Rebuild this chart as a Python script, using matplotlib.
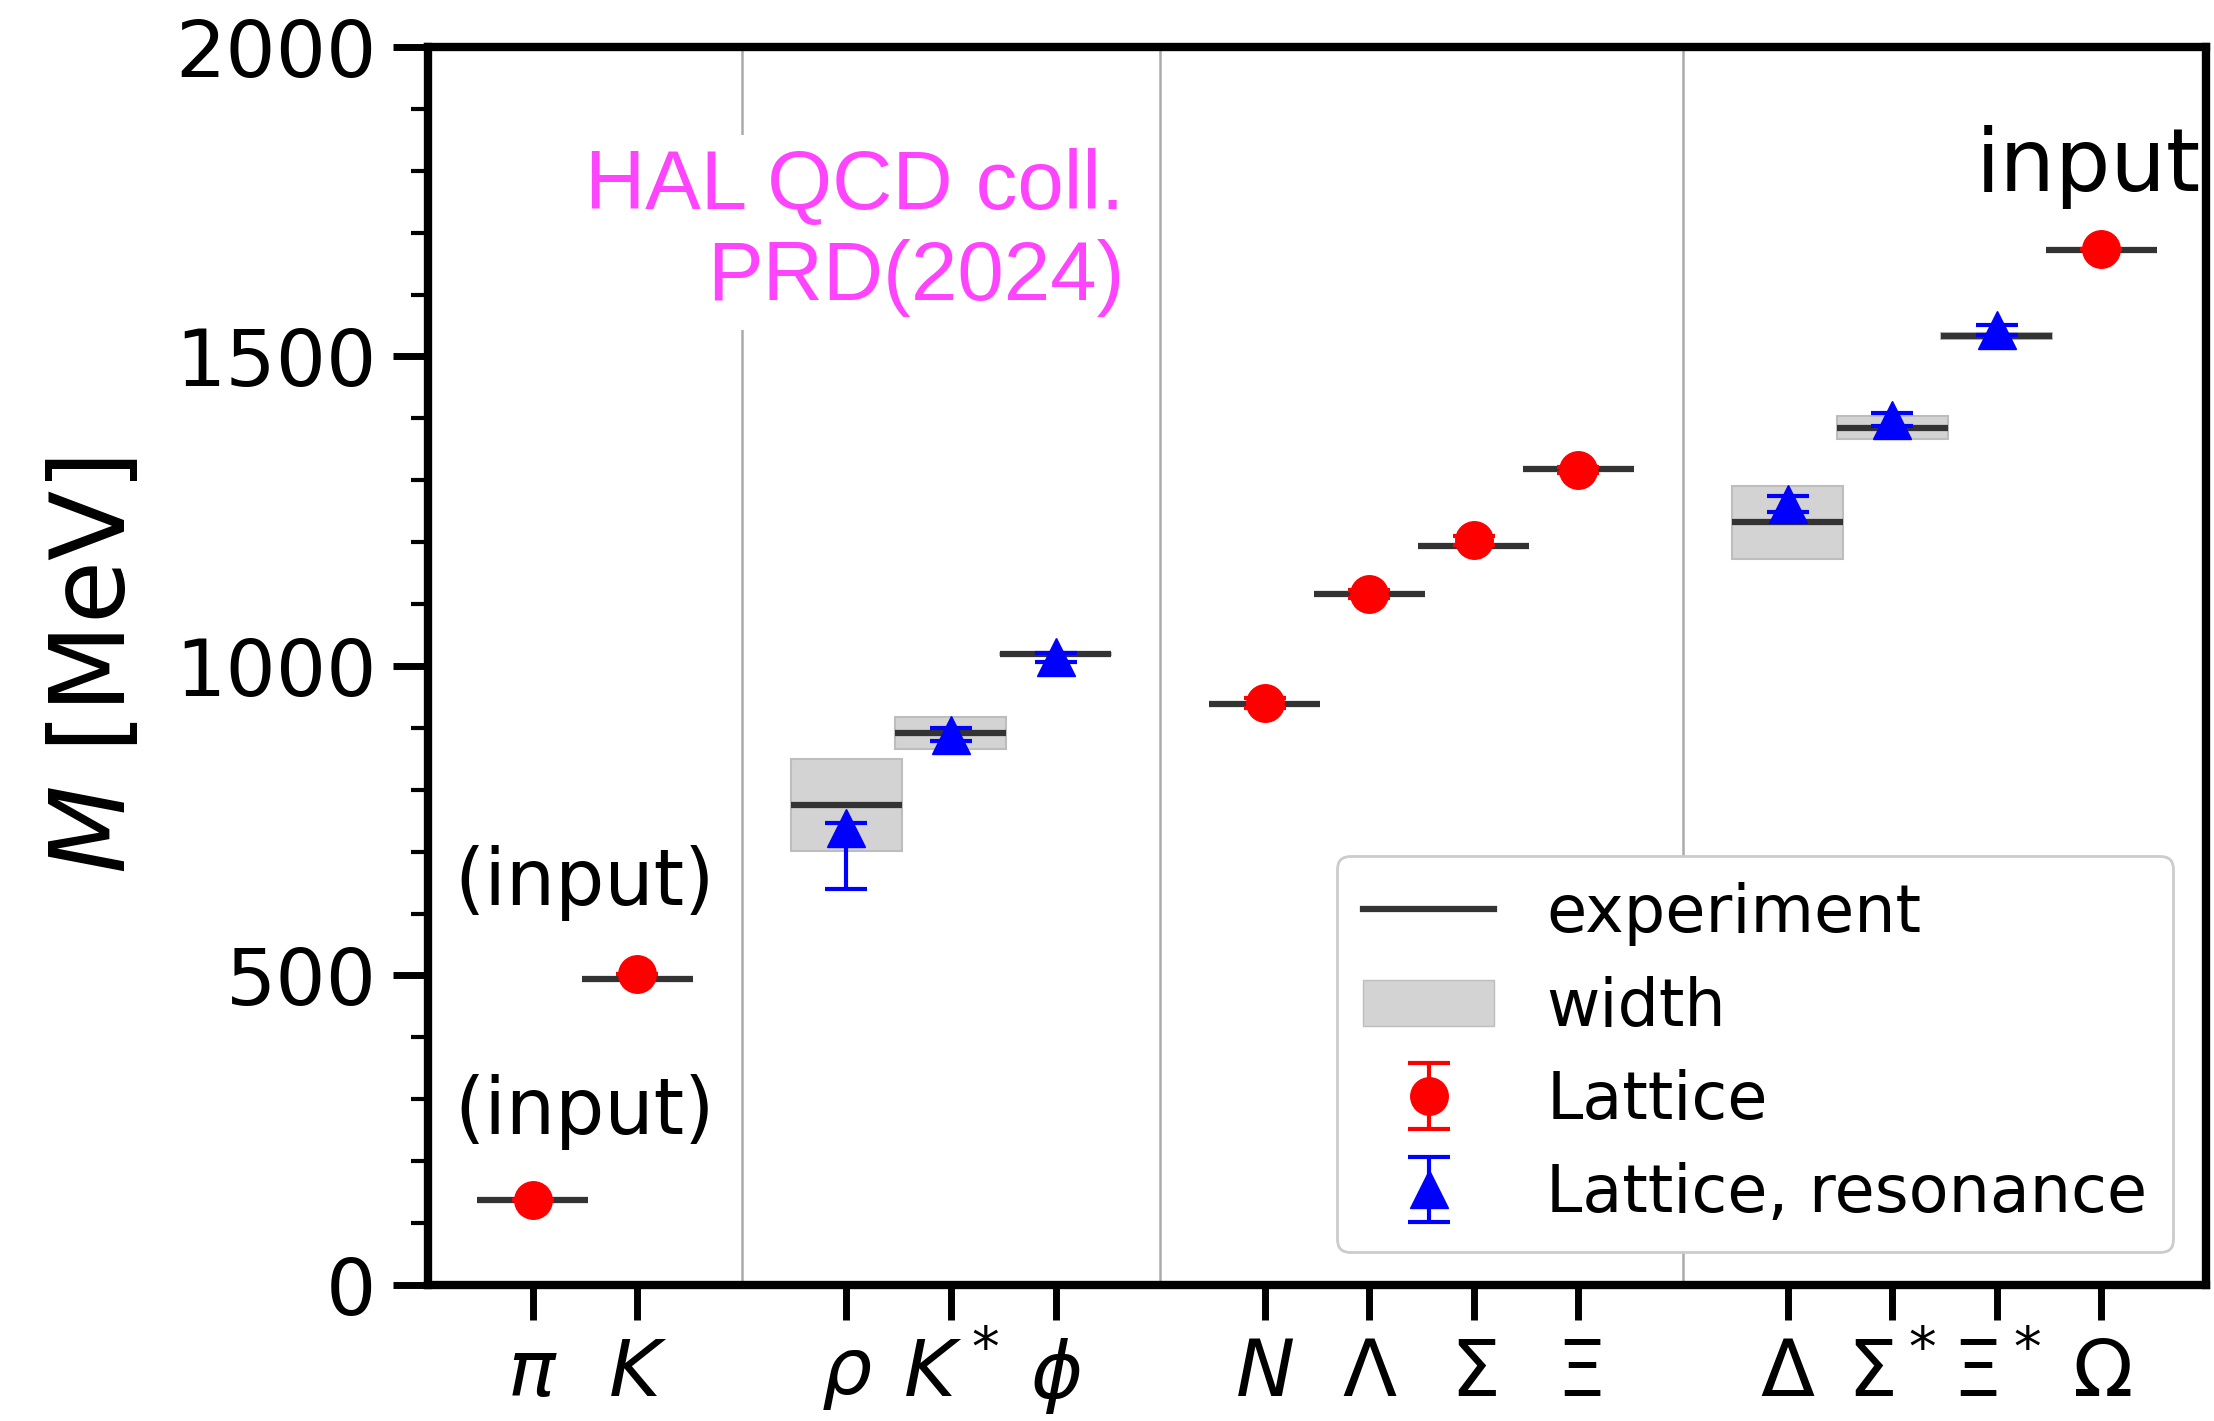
import matplotlib
matplotlib.use("Agg")
import matplotlib.pyplot as plt
from matplotlib.lines import Line2D
from matplotlib.patches import Patch
from matplotlib.ticker import MultipleLocator
import numpy as np

# ── Data ─────────────────────────────────────────────────────────────────────
labels = [r"$\pi$", r"$K$", r"$\rho$", r"$K^*$", r"$\phi$",
          r"$N$", r"$\Lambda$", r"$\Sigma$", r"$\Xi$",
          r"$\Delta$", r"$\Sigma^*$", r"$\Xi^*$", r"$\Omega$"]
xpos = [0, 1, 3, 4, 5, 7, 8, 9, 10, 12, 13, 14, 15]
exp_mass = [138, 495, 775, 892, 1019, 939, 1116, 1193, 1318, 1232, 1385, 1533, 1672]
exp_width = [0, 0, 149, 51, 4, 0, 0, 0, 0, 117, 36, 9, 0]

# lattice, stable states
stable_x = [0, 1, 7, 8, 9, 10, 15]
stable_mass = [137, 502, 940, 1116, 1203, 1317, 1674]
stable_err = [0, 0, 8, 6, 7, 5, 0]

# lattice, resonances
res_x = [3, 4, 5, 12, 13, 14]
res_mass = [738, 889, 1014, 1261, 1398, 1542]
res_err_lo = [98, 11, 7, 13, 11, 8]
res_err_hi = [9, 11, 7, 13, 11, 8]

separators = [2, 6, 11]

# ── Figure ───────────────────────────────────────────────────────────────────
plt.rcParams["font.family"] = "DejaVu Sans"
plt.rcParams["mathtext.fontset"] = "dejavusans"

fig = plt.figure(figsize=(22.14, 14.21), dpi=100)
ax = fig.add_axes([0.1933, 0.0957, 0.8031, 0.8713])

for xs in separators:
    ax.axvline(xs, color="#aaaaaa", lw=1.8, zorder=1)

half = 0.53
for x, m, w in zip(xpos, exp_mass, exp_width):
    if w > 0:
        ax.bar(x, w, bottom=m - w / 2, width=2 * half, color="#d3d3d3",
               edgecolor="#bdbdbd", linewidth=1.5, zorder=2)
ax.hlines(exp_mass, np.array(xpos) - half, np.array(xpos) + half,
          color="#333333", lw=4.5, zorder=3)

eb_kw = dict(ms=27, elinewidth=3, capsize=15, capthick=3, zorder=5)
h_lat = ax.errorbar(stable_x, stable_mass, yerr=stable_err, fmt="o",
                    color="red", **eb_kw)
h_res = ax.errorbar(res_x, res_mass, yerr=[res_err_lo, res_err_hi], fmt="^",
                    color="blue", **eb_kw)

ax.set_xlim(-1, 16)
ax.set_ylim(0, 2000)
ax.set_xticks(xpos)
ax.set_xticklabels(labels)
ax.set_yticks([0, 500, 1000, 1500, 2000])
ax.yaxis.set_minor_locator(MultipleLocator(100))
ax.tick_params(axis="both", which="major", length=25, width=5,
               labelsize=57, pad=12)
ax.tick_params(axis="y", which="minor", length=12, width=3)
for sp in ax.spines.values():
    sp.set_linewidth(6)

ax.set_ylabel(r"$M$ [MeV]", fontsize=74, labelpad=20)

# annotations
ax.text(0.5, 280, "(input)", ha="center", va="center", fontsize=56)
ax.text(0.5, 650, "(input)", ha="center", va="center", fontsize=56)
ax.text(15.95, 1806, "input", ha="right", va="center", fontsize=63)
ax.text(5.66, 1700, "HAL QCD coll.\nPRD(2024)", ha="right", va="center",
        multialignment="right", fontsize=60, color="#ff44ff",
        family="Liberation Sans", linespacing=1.22,
        bbox=dict(boxstyle="square,pad=0.15", facecolor="white",
                  edgecolor="none"), zorder=6)

# legend
h_exp = Line2D([], [], color="#333333", lw=4.5)
h_wid = Patch(facecolor="#d3d3d3", edgecolor="#bdbdbd")
leg = ax.legend([h_exp, h_wid, h_lat, h_res],
                ["experiment", "width", "Lattice", "Lattice, resonance"],
                loc="lower right", fontsize=47, fancybox=True,
                framealpha=1, edgecolor="#cccccc", labelspacing=0.45,
                handlelength=2.0, borderaxespad=0.5)
leg.get_frame().set_linewidth(2)

fig.savefig("out.png", dpi=100, facecolor="white")
